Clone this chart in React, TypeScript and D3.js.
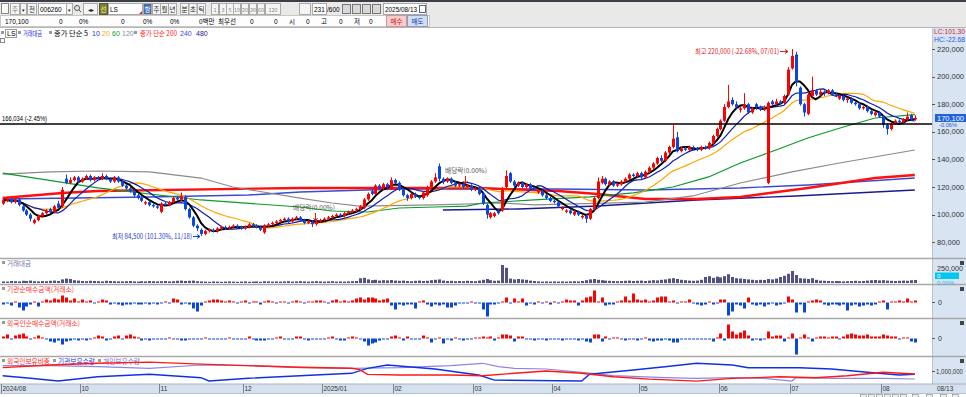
import * as d3 from "d3";

type Bar = [number, number, number, number];

// 일봉 [시가, 고가, 저가, 종가] (천원), 2024/09 ~ 2025/08/13, 231봉
const ohlc: Bar[] = [
  [108,112,107,110],[110,113,109,111],[111,112,108,109],[109,112,108,111],[111,111.5,106,107],
  [106,107,102,103],[103,104,99,100],[100,101,95,97],[94,97,93,96],[96,100,95,99],
  [99,102,98,101],[101,104,100,103],[104,105,101,102],[102,107,101,106],[108,110,104,105],
  [106,120,105,118],[126,129,122,123],[123,127,122,125],[125,128,124,127],[127,128,123,124],
  [124,127,123,126],[126,129,125,128],[128,129,124,125],[125,128,124,127],[127,128,125,126],
  [126,130,125,128],[128,129,125,126],[126,127,123,124],[124,128,123,127],[127,128,123,124],
  [124,125,120,121],[121,122,118,119],[119,120,116,117],[117,118,113,114],[114,115,111,112],
  [112,113,109,110],[108,110,107,109],[109,110,106,107],[107,108,105,106],[106,107,104,105],
  [102,109,101,108],[108,109,106,107],[107,110,106,109],[109,113,108,112],[112,113,110,111],
  [111,116,110,113],[113,114,103,104],[104,105,97,98],[98,99,91,92],[92,93,88,90],
  [89,90,84.5,86],[86,89,85,88],[88,90,87,89],[89,90,87,88],[88,91,87,90],
  [90,92,89,91],[91,92,89,90],[90,92,89,91],[91,93,90,92],[92,93,90,91],
  [91,92,89,90],[90,92,89,91],[91,94,90,93],[93,94,91,92],[92,93,90,91],
  [91,92,88,89],[87,93,86,92],[92,94,91,93],[93,95,92,94],[94,96,93,95],
  [95,97,94,96],[96,98,95,97],[97,98,94,95],[95,98,94,97],[97,99,96,98],
  [98,99,95,96],[96,97,93,94],[94,96,93,95],[95,96,91,93],[93,96,92,95],
  [95,97,94,96],[96,98,95,97],[97,99,96,98],[98,100,97,99],[99,101,98,100],
  [100,101,98,99],[99,102,98,101],[101,103,100,102],[102,104,101,103],[103,105,102,104],
  [104,107,103,106],[105,112,104,111],[111,116,110,115],[117,119,114,115],[115,122,114,121],
  [121,122,118,119],[119,123,118,122],[122,123,119,120],[119,127,118,125],[125,126,122,123],
  [123,124,117,118],[118,119,113,114],[114,115,110,112],[112,116,111,115],[115,116,112,113],
  [113,114,111,112],[112,117,111,116],[114,121,113,120],[120,125,119,124],[124,130,123,127],
  [135,137,124,126],[126,127,122,124],[124,127,123,126],[126,127,122,123],[123,124,120,121],
  [121,123,120,122],[122,123,119,120],[120,122,119,121],[121,122,117,118],[118,120,117,119],
  [119,120,114,115],[115,116,107,108],[107,108,97,100],[98,102,97,101],[99,102,98,101],
  [103,104,100,101],[103,120,102,118],[120,132,119,128],[130,131,123,124],[124,125,120,121],
  [121,124,120,123],[123,124,119,120],[120,123,119,122],[122,123,118,119],[119,120,117,118],
  [116,118,115,117],[117,118,113,114],[114,115,111,112],[112,113,109,110],[110,111,108,109],
  [109,110,105,106],[104,106,103,105],[102,104,101,103],[103,104,100,101],[100,103,99,102],
  [102,103,99,100],[98,100,97,99],[99,100,94,97],[97,105,96,104],[104,113,103,112],
  [112,127,111,124],[123,128,122,126],[126,127,121,122],[122,125,121,124],[124,125,120,121],
  [121,123,120,122],[122,125,121,124],[124,127,123,126],[126,130,125,129],[129,130,127,128],
  [128,131,127,130],[130,131,126,127],[127,132,126,131],[131,135,130,134],[134,138,133,137],
  [137,142,136,141],[141,143,138,139],[139,146,138,145],[145,150,144,149],[149,165,148,155],
  [156,160,145,146],[146,149,145,148],[148,149,146,147],[147,150,146,149],[149,150,147,148],
  [148,149,146,147],[147,150,146,149],[149,150,147,148],[148,153,147,152],[152,158,151,157],
  [157,163,156,162],[162,169,161,168],[168,180,167,178],[178,194,177,182],[183,185,179,180],
  [180,182,177,178],[176,178,174,177],[177,188,176,180],[180,181,173,174],[174,178,173,177],
  [180,181,176,178],[178,179,175,176],[176,179,175,177],[123,182,122,181],[182,183,179,180],
  [180,184,179,182],[182,183,180,181],[181,187,180,186],[187,207,186,205],[206,220,205,215],
  [216,218,193,196],[192,193,179,180],[180,181,171,174],[173,189,172,187],[186,200,185,190],
  [190,191,186,187],[187,191,186,189],[189,190,186,188],[188,191,187,190],[190,191,186,187],
  [187,188,185,186],[184,187,183,186],[186,187,182,183],[183,185,181,184],[184,185,180,181],
  [181,182,179,180],[180,181,176,177],[177,179,176,178],[178,179,174,175],[175,176,172,173],
  [172,175,171,174],[174,175,170,171],[171,172,163,165],[165,166,158,162],[162,167,161,166],
  [166,169,165,168],[168,169,166,167],[167,170,166,169],[169,174,168,171],[172,173,168,169],
  [169,172,168,170.1],
];

// 거래대금 (십억원)
const tradeValue = [
  40,35,50,45,40,55,50,60,45,40,50,45,55,60,50,90,110,100,70,60,
  50,45,55,50,45,40,55,50,45,40,40,45,50,40,35,45,40,50,45,40,
  45,50,40,45,55,60,50,55,60,45,40,35,30,40,35,30,35,40,35,30,
  35,40,30,35,40,30,45,40,35,40,35,40,45,35,40,45,40,35,40,45,
  40,35,40,45,35,40,35,40,45,50,120,130,90,70,80,60,70,65,75,60,
  55,60,50,45,55,60,50,55,70,80,90,60,50,55,45,50,45,55,50,45,
  60,80,100,70,55,60,450,380,110,90,100,90,80,60,50,40,35,40,35,40,
  35,40,35,40,45,40,50,70,90,100,80,70,60,55,50,45,50,55,60,50,
  55,60,50,60,70,65,80,90,110,120,100,80,70,60,55,60,80,150,170,130,
  160,140,170,220,150,120,110,100,90,80,70,80,75,100,90,110,150,180,230,300,
  200,120,110,100,120,80,60,55,50,45,50,45,40,45,50,55,45,50,60,70,
  75,65,70,60,55,50,55,60,55,70,75,
];

// 기관 순매수금액 (십억원)
const instNet = [
  -2,-1,-3,1,-5,-8,-4,-2,1,-4, 1,3,2,4,3,7,5,2,4,1,
  3,1,2,-1,1,3,2,-2,-1,-2, -3,-2,-2,-1,-2,-2,-1,-2,-1,-2,
  -1,1,-1,4,3,-2,-1,-2,-6,-9, -3,1,2,3,3,2,1,2,1,-1,
  1,2,-1,1,1,-2,1,2,1,-1, 1,1,-1,1,2,1,-1,1,1,2,
  2,1,-1,2,3,1,2,1,2,4, 5,3,5,5,4,2,3,4,-3,-7,
  -2,-3,-2,-2,-6,1,2,-2,-4,-2, -3,-2,-5,-5,-3,-1,-1,-1,1,-1,
  -1,-7,-14,-2,-2,-1,1,5,-1,4, 1,4,-3,-1,-2,1,-1,1,-2,1,
  -1,1,3,2,2,-3,2,5,6,12, 1,5,-3,-2,-2,1,2,6,2,9,
  3,2,3,1,2,5,6,6,1,2, -1,1,1,3,-1,-2,-3,-2,1,-2,
  -1,3,3,-13,-9,-2,-3,-6,5,-2, -3,-2,-4,-2,-1,-3,-2,-1,6,3,
  -10,-2,-10,1,2,3,2,-2,-3,-2, -2,-3,-2,-8,-3,-2,-4,-3,-2,-3,
  -2,1,2,-7,1,1,2,1,4,1,2,
];

// 외국인 순매수금액 (십억원)
const foreignNet = [
  2,4,-1,3,4,5,2,-1,1,3, 1,-1,-3,-4,-2,-6,-3,-2,-1,-2,
  -1,-2,-1,1,3,2,-2,-1,2,3, -1,3,4,2,1,-2,-1,-2,-1,-1,
  -1,-1,1,-1,-1,-2,-2,-1,-1,-1, -1,1,-1,-1,-1,-1,-1,1,-1,-1,
  -1,-1,2,-1,-2,-2,-2,-1,-1,1, 2,-1,-1,-1,2,2,-1,-2,-1,-1,
  -1,-1,1,2,-1,-2,-2,1,2,1, -1,-3,-7,-5,-4,-2,-1,-1,2,3,
  1,-2,2,-1,-1,-1,3,1,-4,-1, 1,-5,-1,-2,1,-1,-2,-1,-1,1,
  1,2,1,2,-2,1,4,4,3,-3, 2,2,-1,-1,-2,-1,-1,-2,-1,-1,
  -1,-2,-1,-1,-1,-2,-1,-3,-4,4, 4,-3,2,-1,1,1,-1,-2,-1,-1,
  -2,-1,1,-2,-3,-2,-2,-1,-2,-4, -4,-1,-1,-1,-1,-1,-1,-1,-1,-3,
  1,5,-2,14,7,4,6,8,3,-2, -1,-2,-1,7,2,3,3,-3,1,5,
  -16,1,4,1,-3,1,2,2,1,2, 2,-1,2,4,5,4,3,3,4,2,
  2,2,4,3,2,2,-1,1,1,-3,-4,
];

// 장기 이동평균 [봉 인덱스, 천원]
const ma60: [number, number][] = [
  [0,130.1],[24,119.3],[50,110.6],[75,105.5],[83,102.6],[92,101.9],[100,104.8],[109,105.5],
  [117,106.2],[121,108.4],[134,110.6],[148,112.8],[159,115.7],[169,120.0],[178,127.3],
  [186,137.4],[195,146.8],[203,155.5],[212,163.5],[220,170.0],[230,172.5],
];
const ma120: [number, number][] = [
  [0,129.4],[12,130.9],[24,131.6],[37,130.9],[50,126.5],[58,120.0],[75,112.0],[83,108.4],
  [90,106.2],[109,107.0],[126,108.4],[134,107.0],[162,109.1],[174,113.5],[186,122.9],
  [199,130.9],[211,137.4],[230,146.8],
];
const ma200: [number, number][] = [
  [0,112.0],[15,115.7],[24,117.1],[75,119.3],[120,119.3],[140,117.1],[150,114.9],
  [162,111.3],[175,111.3],[186,112.8],[203,119.3],[220,126.5],[230,128.7],
];
const ma240: [number, number][] = [
  [0,111.3],[37,112.8],[62,114.2],[75,116.4],[100,118.6],[140,118.6],[162,117.8],
  [186,119.3],[203,121.5],[230,126.5],
];
const ma480: [number, number][] = [
  [111,103.3],[130,104.1],[150,106.2],[175,110.6],[200,113.5],[230,117.8],
];

// 보유 현황 [봉 인덱스, 값]
const foreignRatio: [number, number][] = [
  [0,16.4],[12,16.68],[24,16.86],[37,16.97],[50,16.76],[62,16.61],[75,16.44],[88,16.34],
  [90,16.19],[92,15.7],[100,15.63],[113,15.63],[121,15.56],[129,15.81],[137,16.05],
  [146,15.81],[154,15.45],[163,15.21],[175,15.0],[184,15.28],[196,15.45],[205,15.35],
  [213,15.56],[222,15.92],[230,15.74],
];
const instHold: [number, number][] = [
  [0,892000],[7,832000],[14,769000],[24,868000],[37,924000],[50,845000],[52,769000],
  [62,832000],[75,892000],[88,947000],[92,1062000],[97,1138000],[109,1046000],[120,908000],
  [124,790000],[146,769000],[148,924000],[159,1023000],[167,1099000],[175,1178000],
  [184,1138000],[188,1076000],[201,1076000],[209,1046000],[218,970000],[226,908000],[230,924000],
];
const retailHold: [number, number][] = [
  [0,1122000],[12,1122000],[24,1099000],[37,1062000],[50,1138000],[62,1122000],[75,1076000],
  [88,1062000],[100,1076000],[113,1122000],[121,1178000],[125,1099000],[129,1062000],
  [137,1046000],[146,970000],[154,892000],[167,845000],[175,832000],[184,845000],
  [192,832000],[199,769000],[200,845000],[209,832000],[222,832000],[230,815000],
];

const monthTicks: [string, number][] = [
  ["2024/08",0],["10",20],["11",40],["12",61],["2025/01",81],["02",99],["03",119],
  ["04",139],["05",161],["06",181],["07",199],["08",222],
];
const priceTicks = [220, 200, 180, 160, 140, 120, 100, 80];

const F = "'Noto Sans CJK KR', 'Noto Sans', sans-serif";
const N = "'Liberation Sans', Arial, sans-serif";
const UP = "#ff0000";
const DOWN = "#0a46e0";
const AXIS_X = 932;

const T = (p: { x: number; y: number; s?: number; c?: string; w?: number; f?: string; a?: "start" | "middle" | "end"; children: any }) => (
  <text x={p.x} y={p.y} fontSize={p.s ?? 7} fill={p.c ?? "#000"} fontFamily={p.f ?? F} textAnchor={p.a ?? "start"}
    textLength={p.w} lengthAdjust={p.w ? "spacingAndGlyphs" : undefined}>{p.children}</text>
);

const Btn = (p: { x: number; w: number; label: string; fill?: string; c?: string; s?: number }) => (
  <g>
    <rect x={p.x + 0.5} y={3.5} width={p.w} height={11} fill={p.fill ?? "#f5f5f5"} stroke="#a9a9a9" />
    <T x={p.x + p.w / 2 + 0.5} y={11.8} s={p.s ?? 6.5} c={p.c ?? "#222"} a="middle">{p.label}</T>
  </g>
);

export default function App() {
  const closes = ohlc.map((d) => d[3]);
  const sma = (n: number): [number, number][] =>
    closes.map((_, i) => [i, d3.mean(closes.slice(Math.max(0, i - n + 1), i + 1))!]);

  const x = d3.scaleLinear().domain([0, ohlc.length]).range([0.7, 916.8]);
  const cx = (i: number) => Math.round(x(i + 0.5));
  const yP = d3.scaleLinear().domain([80, 220]).range([242.2, 49]);
  const yV = d3.scaleLinear().domain([0, 250]).range([283, 273]);
  const yI = d3.scaleLinear().domain([-14, 14]).range([316.5, 288.5]);
  const yF = d3.scaleLinear().domain([-17, 17]).range([355.5, 321.5]);
  const yH = d3.scaleLinear().domain([700000, 1300000]).range([384, 358]);
  const yR = d3.scaleLinear().domain([14.7, 17.4]).range([384, 358]);

  const priceLine = d3.line<[number, number]>().x((d) => x(d[0] + 0.5)).y((d) => yP(d[1]));
  const holdLine = d3.line<[number, number]>().x((d) => x(d[0] + 0.5)).y((d) => yH(d[1]));
  const ratioLine = d3.line<[number, number]>().x((d) => x(d[0] + 0.5)).y((d) => yR(d[1]));

  const maLines: [[number, number][], string, number][] = [
    [ma480, "#1a1a8c", 1.4],
    [ma240, "#3a4bd0", 1.4],
    [ma200, "#ff1010", 2.4],
    [ma120, "#8a8a8a", 1.2],
    [ma60, "#0a9a2a", 1.2],
    [sma(20), "#ffa500", 1.2],
    [sma(10), "#0b1fb0", 1.2],
    [sma(5), "#000000", 2],
  ];

  const netBars = (vals: number[], y: d3.ScaleLinear<number, number>) =>
    vals.map((v, i) => (
      <rect key={i} x={cx(i) - 1} width={3}
        y={v >= 0 ? y(v) : y(0)} height={Math.max(1, Math.abs(y(v) - y(0)))}
        fill={v >= 0 ? UP : DOWN} />
    ));

  return (
    <div style={{ position: "fixed", left: 0, top: 0 }}>
      <svg width={966} height={397} style={{ display: "block", background: "#fff" }}>
        {/* 상단 툴바 */}
        <rect x={0} y={0} width={966} height={28} fill="#e9e9e9" />
        <rect x={0} y={0} width={966} height={2} fill="#3c4046" />
        <line x1={0} x2={966} y1={27.5} y2={27.5} stroke="#b5b5b5" />
        <rect x={1.5} y={3.5} width={7} height={10} fill="#fafafa" stroke="#888" />
        <Btn x={10} w={9} label="주" c="#777" />
        <Btn x={20} w={6} label="▾" s={5} />
        <Btn x={27} w={9} label="전" />
        <rect x={38.5} y={3.5} width={34} height={11} fill="#fff" stroke="#a9a9a9" />
        <T x={40} y={12} s={6.5} f={N}>006260</T>
        <Btn x={66} w={6} label="▾" s={5} />
        <circle cx={77} cy={8} r={2.5} fill="none" stroke="#555" />
        <line x1={79} y1={10} x2={81} y2={12} stroke="#555" />
        <Btn x={83} w={14} label="◂▸" s={5.5} />
        <rect x={99.5} y={3.5} width={8} height={11} fill="#7d7f24" stroke="#555" />
        <T x={103.5} y={11.8} s={6.5} c="#fff6a0" a="middle">선</T>
        <rect x={108.5} y={3.5} width={34} height={11} fill="#fff" stroke="#a9a9a9" />
        <path d="M139 14 L142 14 L142 11 Z" fill="#e02020" />
        <T x={110} y={12} s={6.5} f={N}>LS</T>
        <Btn x={143} w={8} label="항" fill="#3f6fb5" c="#fff" />
        {["주", "월", "년"].map((t, i) => <Btn key={t} x={152 + i * 8} w={8} label={t} />)}
        {["분", "초", "틱"].map((t, i) => <Btn key={t} x={180 + i * 8.5} w={8} label={t} />)}
        {["1", "3", "5", "10", "20", "30", "60", "120"].map((t, i) => (
          <Btn key={t} x={[211, 219, 226, 233, 241, 249, 257, 265][i]} w={t.length > 2 ? 15 : 7} label={t} c="#888" s={5.5} />
        ))}
        <rect x={299.5} y={3.5} width={11} height={11} fill="#f5f5f5" stroke="#a9a9a9" />
        <rect x={312.5} y={3.5} width={14} height={11} fill="#fff" stroke="#a9a9a9" />
        <T x={314} y={12} s={6.5} f={N}>231</T>
        <T x={327} y={12} s={6.5} f={N}>/600</T>
        {[342, 352, 362, 372].map((bx) => (
          <rect key={bx} x={bx + 0.5} y={4.5} width={8} height={9} fill="#d8d8d8" stroke="#777" />
        ))}
        <rect x={383.5} y={3.5} width={43} height={11} fill="#fff" stroke="#a9a9a9" />
        <T x={385} y={12} s={6.5} w={32} f={N}>2025/08/13</T>
        <rect x={419.5} y={5.5} width={6} height={7} fill="#fff" stroke="#666" />

        <rect x={0.5} y={15.5} width={429} height={11} fill="#fdfdfd" stroke="#c8c8c8" />
        <T x={5} y={24} s={6.5} f={N}>170,100</T>
        <T x={59} y={24} s={6.5} f={N}>0</T>
        <T x={79} y={24} s={6.5} f={N}>0%</T>
        <T x={121} y={24} s={6.5} f={N}>0</T>
        <T x={143} y={24} s={6.5} f={N}>0%</T>
        <T x={170} y={24} s={6.5} f={N}>0%</T>
        <T x={199} y={24} s={6.5}>0백만</T>
        <T x={218} y={24} s={6.5}>최우선</T>
        <T x={250} y={24} s={6.5} f={N}>0</T>
        <T x={274} y={24} s={6.5} f={N}>0</T>
        <T x={289} y={24} s={6.5}>시</T>
        <T x={306} y={24} s={6.5} f={N}>0</T>
        <T x={321} y={24} s={6.5}>고</T>
        <T x={339} y={24} s={6.5} f={N}>0</T>
        <T x={354} y={24} s={6.5}>저</T>
        <T x={369} y={24} s={6.5} f={N}>0</T>
        <rect x={386.5} y={15.5} width={20} height={11} fill="#f7cccc" stroke="#c99" />
        <T x={396.5} y={24} s={6.5} c="#d01010" a="middle">매수</T>
        <rect x={407.5} y={15.5} width={20} height={11} fill="#cfe0f4" stroke="#99b" />
        <T x={417.5} y={24} s={6.5} c="#1030c0" a="middle">매도</T>

        {/* 오른쪽 축 영역 */}
        <rect x={AXIS_X} y={28} width={34} height={356} fill="#d8e4f2" />
        <line x1={AXIS_X + 0.5} x2={AXIS_X + 0.5} y1={28} y2={394} stroke="#b8c4d2" />

        {/* 범례 */}
        <rect x={1} y={31} width={3} height={3} fill="#999" />
        <rect x={5.5} y={29.5} width={11} height={8} fill="none" stroke="#999" />
        <T x={7} y={36} s={7} f={N}>LS</T>
        <rect x={18} y={31} width={3} height={3} fill="#999" />
        <T x={23} y={36} s={7} c="#1a2ee0" w={19}>거래대금</T>
        <rect x={49} y={31} width={3} height={3} fill="#999" />
        <T x={54} y={36} s={7} w={34}>종가 단순 5</T>
        <T x={92} y={36} s={7} c="#1a2ee0" f={N}>10</T>
        <T x={102} y={36} s={7} c="#ffa500" f={N}>20</T>
        <T x={112} y={36} s={7} c="#0a9a2a" f={N}>60</T>
        <T x={122} y={36} s={7} c="#8a8a8a" f={N}>120</T>
        <rect x={134} y={31} width={3} height={3} fill="#999" />
        <T x={140} y={36} s={7} c="#ff1010" w={37}>종가 단순 200</T>
        <T x={180} y={36} s={7} c="#3a4bd0" f={N}>240</T>
        <T x={196} y={36} s={7} c="#1a1a8c" f={N}>480</T>
        <rect x={0.5} y={38.5} width={4} height={4} fill="none" stroke="#888" />

        {/* 가격 패널 */}
        <g>
          {maLines.map(([d, c, w], k) => (
            <path key={k} d={priceLine(d)!} fill="none" stroke={c} strokeWidth={w} />
          ))}
          {ohlc.map(([o, h, l, c], i) => {
            const col = c >= o ? UP : DOWN;
            const top = yP(Math.max(o, c));
            const bh = Math.max(1, Math.abs(yP(o) - yP(c)));
            return (
              <g key={i}>
                <line x1={cx(i) + 0.5} x2={cx(i) + 0.5} y1={yP(h)} y2={yP(l)} stroke={col} />
                <rect x={cx(i) - 1} y={top} width={3} height={bh} fill={col} />
              </g>
            );
          })}
        </g>
        <line x1={0} x2={AXIS_X} y1={124} y2={124} stroke="#000" strokeWidth={1.6} />
        <T x={2} y={121} s={6.5} w={45} f={N}>166,034 (-2.45%)</T>

        <T x={695} y={54} s={7} c="#e01818" w={84}>최고 220,000 (-22.68%, 07/01)</T>
        <path d="M780 51.5 H788 M785 49.5 L788 51.5 L785 53.5" fill="none" stroke="#e01818" />
        <T x={112} y={239} s={7} c="#1a3ad0" w={80}>최저 84,500 (101.30%, 11/18)</T>
        <path d="M193 236.5 H200 M197 234.5 L200 236.5 L197 238.5" fill="none" stroke="#1a3ad0" />
        <T x={293} y={210} s={6.5} c="#555" w={42}>배당락(0.00%)</T>
        <path d="M315.5 213 V221 M313.5 218 L315.5 221 L317.5 218" fill="none" stroke="#e01818" />
        <T x={445} y={173} s={6.5} c="#555" w={42}>배당락(0.00%)</T>
        <path d="M465.5 176 V184 M463.5 181 L465.5 184 L467.5 181" fill="none" stroke="#e01818" />

        {/* 가격 축 */}
        <T x={934} y={34} s={6.5} c="#e01818" w={31} f={N}>LC:101.30</T>
        <T x={934} y={41.5} s={6.5} c="#2a5ad8" w={31} f={N}>HC:-22.68</T>
        {priceTicks.map((v) => (
          <g key={v}>
            <line x1={AXIS_X} x2={AXIS_X + 3} y1={Math.round(yP(v)) + 0.5} y2={Math.round(yP(v)) + 0.5} stroke="#555" />
            <T x={937} y={yP(v) + 2.5} s={7} c="#333" w={v >= 100 ? 27 : 23} f={N}>{d3.format(",")(v * 1000)}</T>
          </g>
        ))}
        <rect x={935} y={114} width={31} height={8} fill="#1f62dc" />
        <T x={937} y={120.5} s={7} c="#fff" w={27} f={N}>170,100</T>
        <T x={939} y={127.3} s={5.8} c="#2a5ad8" w={18} f={N}>-0.06%</T>

        {/* 패널 구분선 */}
        {[258, 284, 318, 356].map((yy) => (
          <line key={yy} x1={0} x2={966} y1={yy + 0.5} y2={yy + 0.5} stroke="#a8a8a8" strokeWidth={1.4} />
        ))}
        {[261, 287, 321, 359].map((yy) => (
          <rect key={yy} x={960} y={yy} width={4} height={4} fill="#444" />
        ))}

        {/* 거래대금 */}
        <rect x={2} y={261} width={3} height={3} fill="#999" />
        <T x={7} y={266} s={6.5} c="#7070a8">거래대금</T>
        {tradeValue.map((v, i) => (
          <rect key={i} x={cx(i) - 1} y={yV(v)} width={3} height={yV(0) - yV(v)} fill="#525282" />
        ))}
        <T x={937} y={271} s={6.5} c="#333" w={26} f={N}>250,000</T>
        <rect x={935} y={272.5} width={24} height={6.5} fill="#00c8f0" />
        <T x={937} y={278.2} s={6} c="#fff" f={N}>0</T>
        <T x={937} y={285} s={5.8} c="#2ab8e8" w={17} f={N}>0.00%</T>

        {/* 기관 순매수 */}
        <rect x={2} y={287} width={3} height={3} fill="#999" />
        <T x={7} y={292} s={6.8} c="#ff3030" w={67}>기관순매수금액(거래소)</T>
        {netBars(instNet, yI)}
        <line x1={AXIS_X} x2={AXIS_X + 3} y1={302.5} y2={302.5} stroke="#555" />
        <T x={938} y={305} s={7} c="#333" f={N}>0</T>

        {/* 외국인 순매수 */}
        <rect x={2} y={321} width={3} height={3} fill="#999" />
        <T x={7} y={326} s={6.8} c="#ff3030" w={73}>외국인순매수금액(거래소)</T>
        {netBars(foreignNet, yF)}
        <line x1={AXIS_X} x2={AXIS_X + 3} y1={338.5} y2={338.5} stroke="#555" />
        <T x={938} y={341} s={7} c="#333" f={N}>0</T>

        {/* 보유 현황 */}
        <rect x={2} y={359} width={3} height={3} fill="#999" />
        <T x={7} y={364} s={6.8} c="#ff2020" w={43}>외국인보유비중</T>
        <rect x={53} y={359} width={3} height={3} fill="#999" />
        <T x={58} y={364} s={6.8} c="#1a2ee0" w={37}>기관보유수량</T>
        <rect x={98} y={359} width={3} height={3} fill="#999" />
        <T x={103} y={364} s={6.8} c="#7a6ad8" w={37}>개인보유수량</T>
        <path d={holdLine(retailHold)!} fill="none" stroke="#8a86e6" strokeWidth={1.2} />
        <path d={holdLine(instHold)!} fill="none" stroke="#1030e8" strokeWidth={1.4} />
        <path d={ratioLine(foreignRatio)!} fill="none" stroke="#ff1818" strokeWidth={1.4} />
        <line x1={AXIS_X} x2={AXIS_X + 3} y1={371.5} y2={371.5} stroke="#555" />
        <T x={936} y={374} s={6.5} c="#333" w={27} f={N}>1,000,000</T>

        {/* 날짜 축 */}
        <rect x={0} y={384} width={966} height={10} fill="#d6e1ee" />
        <line x1={0} x2={966} y1={384} y2={384} stroke="#a8b4c4" />
        <line x1={0} x2={966} y1={393.5} y2={393.5} stroke="#b8c2d0" />
        {monthTicks.map(([t, i]) => {
          const tx = Math.round(x(i)) + 0.5;
          return (
            <g key={t}>
              <line x1={tx} x2={tx} y1={384} y2={393} stroke="#7a8696" />
              <T x={tx + 1} y={391} s={6.5} c="#333" f={N}>{t}</T>
            </g>
          );
        })}
        <T x={937} y={391} s={6.5} c="#333" f={N}>08/13</T>
        <rect x={0} y={394} width={966} height={3} fill="#fff" />
        {[860, 868, 876, 884, 892, 900, 912, 926, 940, 952].map((bx) => (
          <rect key={bx} x={bx + 0.5} y={394.5} width={6} height={3} fill="#eee" stroke="#888" strokeWidth={0.6} />
        ))}
      </svg>
    </div>
  );
}
